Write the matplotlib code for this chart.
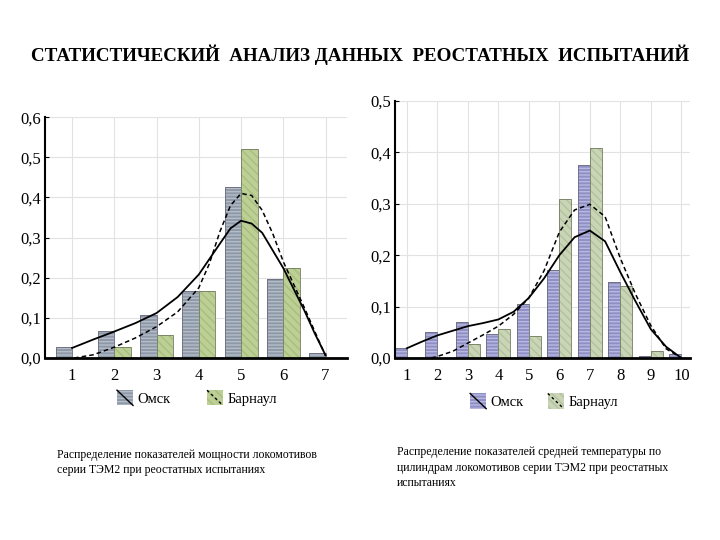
import matplotlib
matplotlib.use('Agg')
import matplotlib.pyplot as plt
from matplotlib.patches import Rectangle
from matplotlib.lines import Line2D
from matplotlib.ticker import FuncFormatter

plt.rcParams['font.family'] = ['Liberation Serif', 'DejaVu Serif']
plt.rcParams['hatch.linewidth'] = 1.0

# ---- left chart: power ----
power_cats = [1, 2, 3, 4, 5, 6, 7]
power_omsk = [0.028, 0.067, 0.107, 0.168, 0.426, 0.196, 0.012]
power_barn = [0.0, 0.028, 0.057, 0.168, 0.520, 0.225, 0.0]
power_omsk_curve_x = [1, 1.5, 2, 2.5, 3, 3.5, 4, 4.5, 4.75, 5, 5.25, 5.5, 6, 6.5, 6.75, 7]
power_omsk_curve_y = [0.025, 0.046, 0.066, 0.087, 0.112, 0.152, 0.208, 0.285, 0.323, 0.342,
                      0.335, 0.312, 0.224, 0.118, 0.06, 0.007]
power_barn_curve_x = [1.05, 1.5, 2, 2.5, 3, 3.5, 4, 4.25, 4.5, 4.75, 5, 5.25, 5.5, 5.75, 6, 6.5, 7]
power_barn_curve_y = [0.0, 0.008, 0.027, 0.05, 0.078, 0.115, 0.175, 0.235, 0.315, 0.38, 0.41,
                      0.405, 0.368, 0.31, 0.24, 0.125, 0.005]

# ---- right chart: temperature ----
temp_cats = [1, 2, 3, 4, 5, 6, 7, 8, 9, 10]
temp_omsk = [0.019, 0.051, 0.070, 0.047, 0.106, 0.172, 0.375, 0.148, 0.003, 0.008]
temp_barn = [0.0, 0.0, 0.027, 0.056, 0.042, 0.309, 0.408, 0.140, 0.014, 0.0]
temp_omsk_curve_x = [1, 1.5, 2, 2.5, 3, 3.5, 4, 4.5, 5, 5.5, 6, 6.5, 7, 7.5, 8, 8.5, 9, 9.5, 10]
temp_omsk_curve_y = [0.019, 0.032, 0.044, 0.053, 0.062, 0.068, 0.075, 0.09, 0.117, 0.155, 0.2,
                     0.235, 0.248, 0.227, 0.167, 0.11, 0.056, 0.022, 0.0]
temp_barn_curve_x = [1.8, 2, 2.5, 3, 3.5, 4, 4.5, 5, 5.5, 6, 6.5, 7, 7.5, 8, 8.5, 9, 9.5, 10]
temp_barn_curve_y = [0.0, 0.003, 0.013, 0.029, 0.045, 0.062, 0.085, 0.117, 0.17, 0.245, 0.288,
                     0.299, 0.275, 0.194, 0.124, 0.063, 0.018, 0.0]

title = 'СТАТИСТИЧЕСКИЙ  АНАЛИЗ ДАННЫХ  РЕОСТАТНЫХ  ИСПЫТАНИЙ'
caption_left = 'Распределение показателей мощности локомотивов\nсерии ТЭМ2 при реостатных испытаниях'
caption_right = ('Распределение показателей средней температуры по\n'
                 'цилиндрам локомотивов серии ТЭМ2 при реостатных\nиспытаниях')


class SwatchHandler:
    def __init__(self, face, stripe, hatch, ls):
        self.face, self.stripe, self.hatch, self.ls = face, stripe, hatch, ls

    def legend_artist(self, legend, orig_handle, fontsize, handlebox):
        x0, y0 = -handlebox.xdescent, -handlebox.ydescent
        w, h = handlebox.width, handlebox.height
        tr = handlebox.get_transform()
        r = Rectangle((x0, y0), w, h, facecolor=self.face, edgecolor=self.stripe,
                      hatch=self.hatch, lw=0, transform=tr)
        ln = Line2D([x0, x0 + w], [y0 + h, y0], color='black', lw=1.0, ls=self.ls, transform=tr)
        handlebox.add_artist(r)
        handlebox.add_artist(ln)
        return r


def draw(ax, cats, omsk, barn, ocx, ocy, bcx, bcy, omsk_col, omsk_stripe, barn_col, barn_stripe,
         xlim, ylim, yticks):
    w = 0.39
    xo = [c - w / 2 for c in cats]
    xb = [c + w / 2 for c in cats]
    ax.bar(xo, omsk, w, color=omsk_col, edgecolor=omsk_stripe, hatch='-----', lw=0, zorder=2)
    ax.bar(xo, omsk, w, fill=False, edgecolor='#6a6a7a', lw=0.6, zorder=2)
    ax.bar(xb, barn, w, color=barn_col, edgecolor=barn_stripe, hatch='\\\\\\\\', lw=0, zorder=2)
    ax.bar(xb, barn, w, fill=False, edgecolor='#707a60', lw=0.6, zorder=2)
    ax.plot(ocx, ocy, color='black', lw=1.3, zorder=3)
    ax.plot(bcx, bcy, color='black', lw=1.1, ls=(0, (3, 2)), zorder=3)
    ax.set_xlim(*xlim)
    ax.set_ylim(*ylim)
    ax.set_xticks(cats)
    ax.set_yticks(yticks)
    ax.yaxis.set_major_formatter(FuncFormatter(lambda v, p: f'{v:.1f}'.replace('.', ',')))
    ax.grid(True, color='#e2e2e2', lw=0.8, zorder=0)
    ax.set_axisbelow(True)
    for s in ['top', 'right']:
        ax.spines[s].set_visible(False)
    ax.spines['left'].set_linewidth(1.5)
    ax.spines['bottom'].set_linewidth(2.0)
    ax.spines['bottom'].set_zorder(4)
    ax.tick_params(axis='x', length=0, pad=7.5, labelsize=12)
    ax.tick_params(axis='y', direction='in', length=3, pad=3, labelsize=12)


fig = plt.figure(figsize=(7.2, 5.4), dpi=100)

ax1 = fig.add_axes([0.0625, 0.337, 0.419, 0.446])
draw(ax1, power_cats, power_omsk, power_barn, power_omsk_curve_x, power_omsk_curve_y,
     power_barn_curve_x, power_barn_curve_y, '#8e99a8', '#b4bcc8', '#bccf94', '#a9bd80',
     (0.36, 7.5), (0, 0.6), [0, 0.1, 0.2, 0.3, 0.4, 0.5, 0.6])

ax2 = fig.add_axes([0.549, 0.337, 0.41, 0.476])
draw(ax2, temp_cats, temp_omsk, temp_barn, temp_omsk_curve_x, temp_omsk_curve_y,
     temp_barn_curve_x, temp_barn_curve_y, '#8f8fc6', '#b8b8e0', '#c9d5b6', '#b3c29c',
     (0.62, 10.3), (0, 0.5), [0, 0.1, 0.2, 0.3, 0.4, 0.5])

# legends
leg_kw = dict(loc='center left', ncol=2, frameon=False, fontsize=10.5, handlelength=1.1,
              handleheight=1.23, handletextpad=0.3, borderpad=0, borderaxespad=0)
h1 = [Rectangle((0, 0), 1, 1), Rectangle((0, 0), 1, 1)]
fig.legend(h1, ['Омск', 'Барнаул'], bbox_to_anchor=(0.1625, 0.263), columnspacing=2.5,
           handler_map={h1[0]: SwatchHandler('#8e99a8', '#b4bcc8', '-----', '-'),
                        h1[1]: SwatchHandler('#bccf94', '#a9bd80', '\\\\\\\\', (0, (2, 2)))},
           **leg_kw)
h2 = [Rectangle((0, 0), 1, 1), Rectangle((0, 0), 1, 1)]
fig.legend(h2, ['Омск', 'Барнаул'], bbox_to_anchor=(0.653, 0.257), columnspacing=1.65,
           handler_map={h2[0]: SwatchHandler('#8f8fc6', '#b8b8e0', '-----', '-'),
                        h2[1]: SwatchHandler('#c9d5b6', '#b3c29c', '\\\\\\\\', (0, (2, 2)))},
           **leg_kw)

fig.text(0.5, 0.898, title, ha='center', va='center', fontsize=13.7, fontweight='bold')
fig.text(0.079, 0.143, caption_left, ha='left', va='center', fontsize=8.5, linespacing=1.35)
fig.text(0.551, 0.134, caption_right, ha='left', va='center', fontsize=8.5, linespacing=1.35)

fig.savefig('out.png', dpi=100)
